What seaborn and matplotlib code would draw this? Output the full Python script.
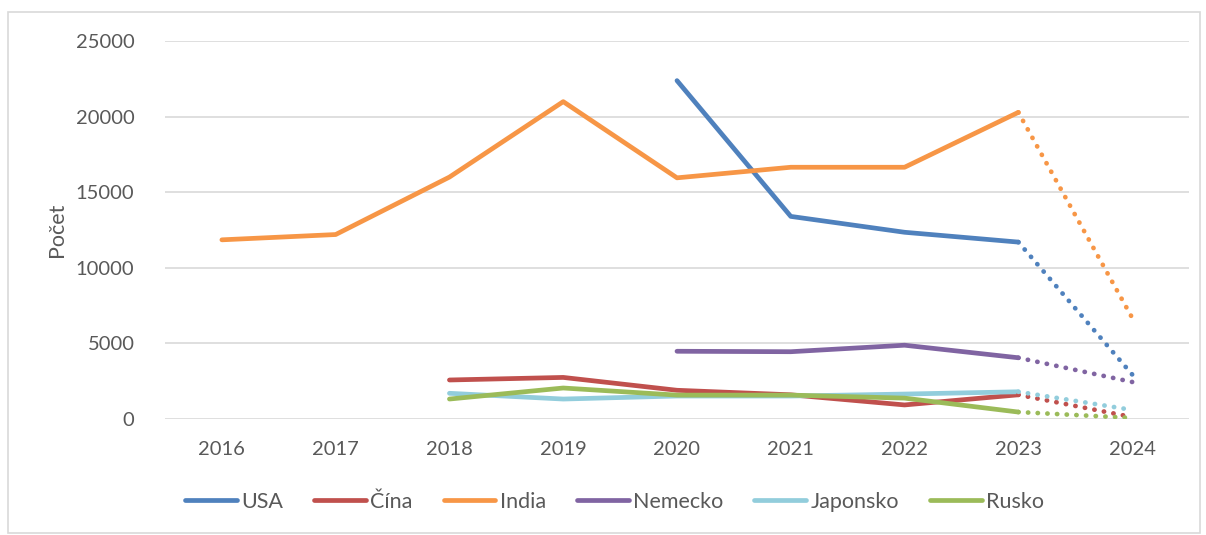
import matplotlib
matplotlib.use("Agg")
import matplotlib.pyplot as plt
import seaborn as sns
import pandas as pd
import numpy as np

years = [2016, 2017, 2018, 2019, 2020, 2021, 2022, 2023, 2024]
countries = ["USA", "Čína", "India", "Nemecko", "Japonsko", "Rusko"]

usa      = [None, None, None, None, 22380, 13400, 12350, 11700, 2950]
cina     = [None, None, 2580, 2750, 1900, 1600, 930, 1600, 130]
india    = [11850, 12200, 16000, 20990, 15950, 16650, 16650, 20280, 6700]
nemecko  = [None, None, None, None, 4480, 4450, 4880, 4050, 2450]
japonsko = [None, None, 1700, 1320, 1520, 1520, 1650, 1800, 600]
rusko    = [None, None, 1320, 2050, 1580, 1580, 1380, 460, 70]

series = [usa, cina, india, nemecko, japonsko, rusko]
colors = ["#4F81BD", "#C0504D", "#F79646", "#8064A2", "#92CDDC", "#9BBB59"]
projected_year = 2024

rows = []
for name, vals in zip(countries, series):
    for y, v in zip(years, vals):
        if v is not None:
            rows.append({"Rok": y, "Krajina": name, "Počet": v})
df = pd.DataFrame(rows)
solid = df[df["Rok"] < projected_year]
dotted = df[df["Rok"] >= projected_year - 1]

sns.set_theme(style="white")
plt.rcParams['font.family'] = ['Lato', 'DejaVu Sans']

fig = plt.figure(figsize=(12.06, 5.35), dpi=100)
ax = fig.add_axes([165/1206, 1-419/535, (1189-165)/1206, (419-41)/535])

pal = dict(zip(countries, colors))
sns.lineplot(data=solid, x="Rok", y="Počet", hue="Krajina", hue_order=countries,
             palette=pal, linewidth=3.4, ax=ax, solid_capstyle="round",
             solid_joinstyle="round", sort=True)
sns.lineplot(data=dotted, x="Rok", y="Počet", hue="Krajina", hue_order=countries,
             palette=pal, linewidth=3.4, ax=ax, legend=False,
             linestyle=(0, (0.05, 2.0)), dash_capstyle="round")

ax.set_xlim(2015.5, 2024.5)
ax.set_ylim(0, 25000)
ax.set_xticks(years)
ax.set_xticklabels([str(y) for y in years])
ax.set_yticks(range(0, 25001, 5000))
ax.yaxis.grid(True, color="#d9d9d9", linewidth=1.2)
ax.xaxis.grid(False)
for s in ax.spines.values():
    s.set_visible(False)
ax.tick_params(axis="both", length=0, labelsize=14.5, colors="#595959")
ax.tick_params(axis="x", pad=16)
ax.tick_params(axis="y", pad=22)
ax.set_xlabel("")
ax.set_ylabel("Počet", fontsize=15.5, color="#595959", labelpad=6)

handles, labels = ax.get_legend_handles_labels()
leg = ax.legend(handles, labels, loc="center", bbox_to_anchor=(0.439, -(502-419)/378),
                ncol=6, frameon=False, fontsize=15.5, handlelength=2.4,
                handletextpad=0.2, columnspacing=1.45)
for t in leg.get_texts():
    t.set_color("#595959")
for h in leg.get_lines():
    h.set_linewidth(3.4)
    h.set_solid_capstyle("round")

fig.patches.append(matplotlib.patches.Rectangle((8/1206, 1-533/535), (1200-8)/1206, (533-12)/535,
                   transform=fig.transFigure, fill=False, edgecolor="#d9d9d9", linewidth=1.2))

fig.savefig("out.png", dpi=100)
